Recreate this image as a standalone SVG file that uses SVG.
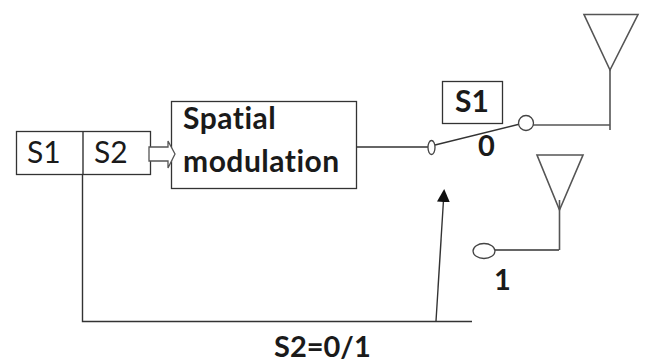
<svg xmlns="http://www.w3.org/2000/svg" width="645" height="363" viewBox="0 0 645 363">
<style>
text{font-family:Lato,"Open Sans","DejaVu Sans",sans-serif;fill:#1a1a1a;font-variant-ligatures:none}
.b{font-weight:700}
.box{fill:#fff;stroke:#333;stroke-width:1.3}
.l{fill:none;stroke:#333;stroke-width:1.4}
.g{fill:none;stroke:#555;stroke-width:1.6}
.c{fill:#fff;stroke:#444;stroke-width:1.3}
</style>
<defs><marker id="ah" markerUnits="userSpaceOnUse" markerWidth="14" markerHeight="14" refX="10" refY="6.5" orient="auto"><path d="M0 0L13 6.500L0 13Z" fill="#111"/></marker></defs>
<rect width="645" height="363" fill="#fff"/>
<g id="connectors">
<path class="l" d="M82.500 174V321.500H472"/>
<path class="l" d="M436 321L444 192" marker-end="url(#ah)"/>
<path class="l" d="M357 147H428"/>
<path class="l" d="M435 145L520 124"/>
<path class="g" d="M533 125H610M610 70V130"/>
<path class="l" d="M495 250H559"/>
<path class="g" d="M559.500 200V250"/>
</g>
<g id="bits"><rect class="box" x="16.500" y="131.500" width="134" height="43"/><path class="l" d="M83 131.500V174.500"/>
<text x="27" y="163" font-size="30">S1</text><text x="94" y="163" font-size="30">S2</text></g>
<g id="spatial-modulation"><rect class="box" x="171.500" y="101.500" width="185" height="87"/>
<text class="b" x="183" y="129" font-size="30" letter-spacing="0.500">Spatial</text><text class="b" x="183" y="172" font-size="30" letter-spacing="0.500">modulation</text></g>
<path id="block-arrow" d="M149 147H168V141L175 154L168 168V161H149Z" fill="#fff" stroke="#555" stroke-width="1.300"/>
<g id="s1-label"><rect class="box" x="442.500" y="81.500" width="60" height="42"/><text class="b" x="455" y="112" font-size="30">S1</text></g>
<g id="switch-in"><ellipse class="c" cx="431.500" cy="147.500" rx="3.500" ry="7"/></g>
<g id="switch-0"><circle class="c" cx="526" cy="123" r="7.500"/><text class="b" x="478" y="156" font-size="29">0</text></g>
<g id="switch-1"><ellipse class="c" cx="484" cy="251" rx="11" ry="7.500"/><text class="b" x="494" y="290" font-size="29">1</text></g>
<g id="antenna-1"><path class="g" d="M584 14.500H638L610 70Z"/></g>
<g id="antenna-2"><path class="g" d="M537 155H583L559.500 210Z"/></g>
<text id="s2-label" class="b" x="274" y="357" font-size="29">S2=0/1</text>
</svg>
